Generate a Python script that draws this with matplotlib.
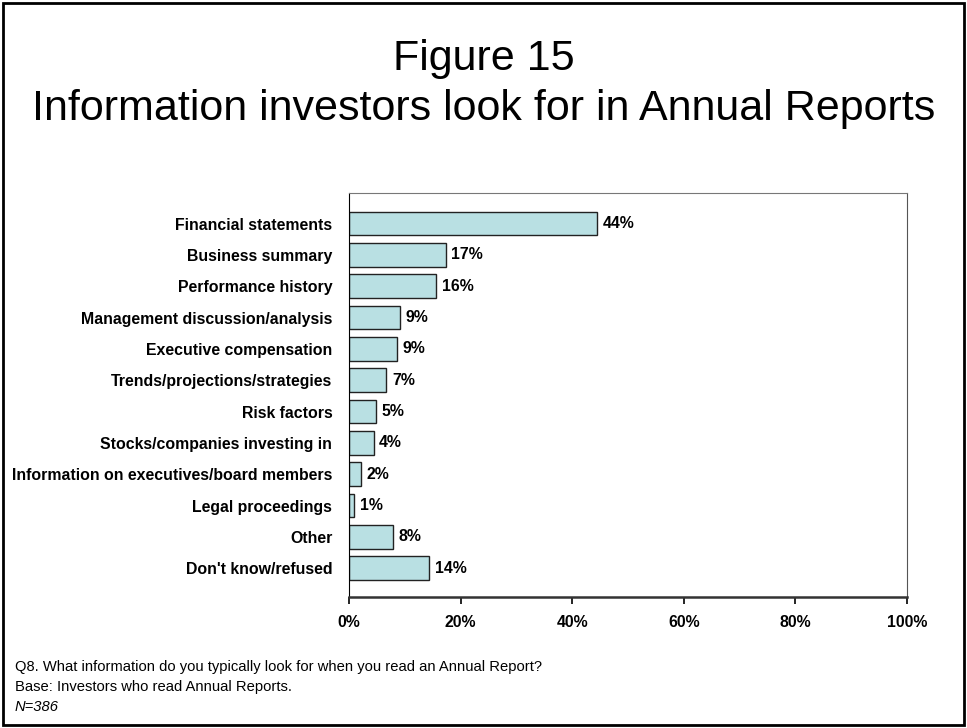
import matplotlib.pyplot as plt
from matplotlib.patches import Rectangle
from matplotlib.ticker import FuncFormatter

plt.rcParams['font.family'] = ['Liberation Sans', 'DejaVu Sans']

categories = [
    "Financial statements",
    "Business summary",
    "Performance history",
    "Management discussion/analysis",
    "Executive compensation",
    "Trends/projections/strategies",
    "Risk factors",
    "Stocks/companies investing in",
    "Information on executives/board members",
    "Legal proceedings",
    "Other",
    "Don't know/refused",
]
shares = [44.4, 17.3, 15.6, 9.2, 8.6, 6.7, 4.8, 4.4, 2.2, 0.9, 7.9, 14.4]
x_ticks = [0, 20, 40, 60, 80, 100]

bar_color = "#b9e0e3"
label_size = 11.4

fig = plt.figure(figsize=(9.67, 7.28), dpi=100)

# frame around the whole slide
fig.patches.append(Rectangle((0.003, 0.004), 0.994, 0.992, transform=fig.transFigure,
                             fill=False, edgecolor="black", linewidth=2))

fig.text(0.5, 0.919, "Figure 15", ha="center", va="center", fontsize=31)
fig.text(0.5, 0.850, "Information investors look for in Annual Reports",
         ha="center", va="center", fontsize=31)

ax = fig.add_axes([0.3609, 0.1799, 0.5771, 0.555])
ypos = list(range(len(categories)))
bars = ax.barh(ypos, shares, height=0.75, color=bar_color, edgecolor="#222222", linewidth=1)

for b, v in zip(bars, shares):
    ax.text(b.get_width() + 1.0, b.get_y() + b.get_height() / 2, f"{v:.0f}%",
            ha="left", va="center", fontsize=label_size, fontweight="bold")

ax.set_xlim(0, 100)
ax.set_ylim(11.92, -0.975)
ax.set_yticks(ypos)
ax.set_yticklabels(categories, fontsize=label_size, fontweight="bold")
ax.tick_params(axis="y", length=0, pad=12)
ax.set_xticks(x_ticks)
ax.xaxis.set_major_formatter(FuncFormatter(lambda v, p: f"{v:.0f}%"))
ax.tick_params(axis="x", length=5, width=1.2, pad=8, labelsize=label_size)
for lbl in ax.get_xticklabels():
    lbl.set_fontweight("bold")

ax.spines["left"].set_color("black")
ax.spines["bottom"].set_color("#333333")
ax.spines["bottom"].set_linewidth(1.8)
ax.spines["top"].set_color("#777777")
ax.spines["right"].set_color("#555555")

fig.text(0.0155, 0.084, "Q8. What information do you typically look for when you read an Annual Report?",
         ha="left", va="center", fontsize=10.6)
fig.text(0.0155, 0.056, "Base: Investors who read Annual Reports.", ha="left", va="center", fontsize=10.6)
fig.text(0.0155, 0.029, "N=386", ha="left", va="center", fontsize=10.6, style="italic")

fig.savefig("out.png", dpi=100)
